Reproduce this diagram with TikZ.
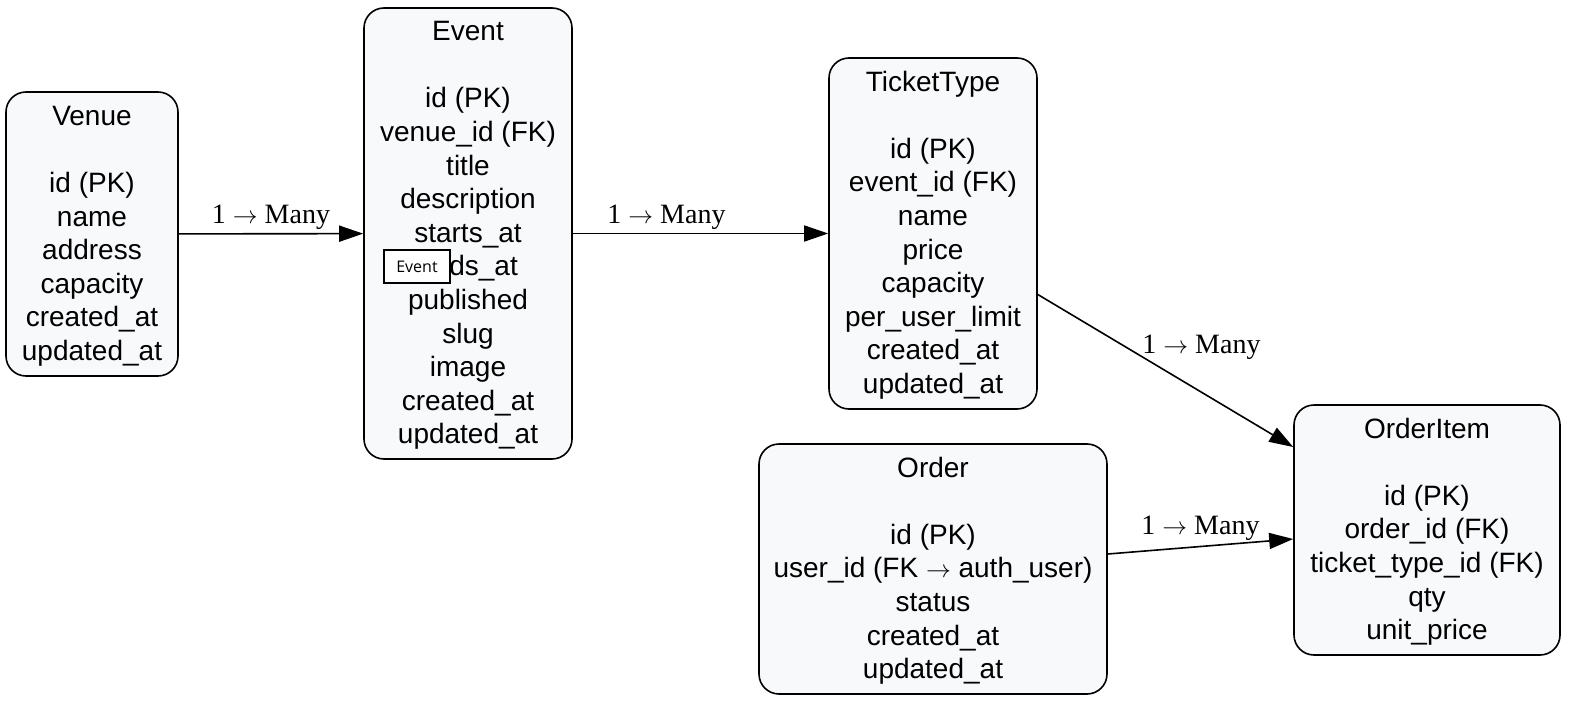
\documentclass[tikz,border=0pt]{standalone}
\usepackage{fontspec}
\setmainfont{Liberation Sans}
\newfontfamily\cardfont{Liberation Serif}
\newfontfamily\tipfont{Open Sans}
\usetikzlibrary{arrows.meta}
\definecolor{boxfill}{HTML}{F8F9FA}
\newcommand{\gap}{\\[33.6bp]}
\newcommand{\toarrow}{$\rightarrow$}

\begin{document}
\begin{tikzpicture}[x=1bp, y=-1bp,
  entity/.style={draw, line width=1.6bp, rounded corners=20bp, fill=boxfill, align=center, inner sep=0pt, font=\fontsize{28bp}{33.6bp}\selectfont},
  rel/.style={-{Triangle[length=24bp,width=16bp]}, line width=1.6bp},
  card/.style={font=\cardfont\fontsize{28bp}{33.6bp}\selectfont, inner sep=0pt}]
\useasboundingbox (0,0) rectangle (1580,717);
\node[entity, minimum width=172bp, minimum height=284bp] (venue) at (92,234) {\strut Venue\gap id (PK)\\name\\address\\capacity\\created\_at\\updated\_at};
\node[entity, minimum width=208bp, minimum height=451bp] (event) at (468,233.5) {\strut Event\gap id (PK)\\venue\_id (FK)\\title\\description\\starts\_at\\ends\_at\\published\\slug\\image\\created\_at\\updated\_at};
\node[entity, minimum width=208bp, minimum height=351bp] (ticket) at (933,233.5) {\strut TicketType\gap id (PK)\\event\_id (FK)\\name\\price\\capacity\\per\_user\_limit\\created\_at\\updated\_at};
\node[entity, minimum width=348bp, minimum height=250bp] (order) at (933,569) {\strut Order\gap id (PK)\\user\_id (FK \toarrow{} auth\_user)\\status\\created\_at\\updated\_at};
\node[entity, minimum width=266bp, minimum height=250bp] (item) at (1427,530) {\strut OrderItem\gap id (PK)\\order\_id (FK)\\ticket\_type\_id (FK)\\qty\\unit\_price};
% hover tip over the Event box
\node[draw, line width=1.2bp, fill=white, minimum width=66bp, minimum height=33bp, inner sep=0pt, font=\tipfont\fontsize{16bp}{19bp}\selectfont] (tip) at (417,266.5) {Event};
\draw[rel] (venue) -- node[card, yshift=16bp] {1 \toarrow{} Many} (event);
\draw[rel] (event) -- node[card, xshift=-34bp, yshift=16bp] {1 \toarrow{} Many} (ticket);
\draw[rel] ([yshift=-61bp]ticket.east) -- node[card, xshift=36bp, yshift=23bp] {1 \toarrow{} Many} ([yshift=83bp]item.west);
\draw[rel] ([yshift=15bp]order.east) -- node[card, yshift=18bp] {1 \toarrow{} Many} ([yshift=-9bp]item.west);
\end{tikzpicture}
\end{document}
